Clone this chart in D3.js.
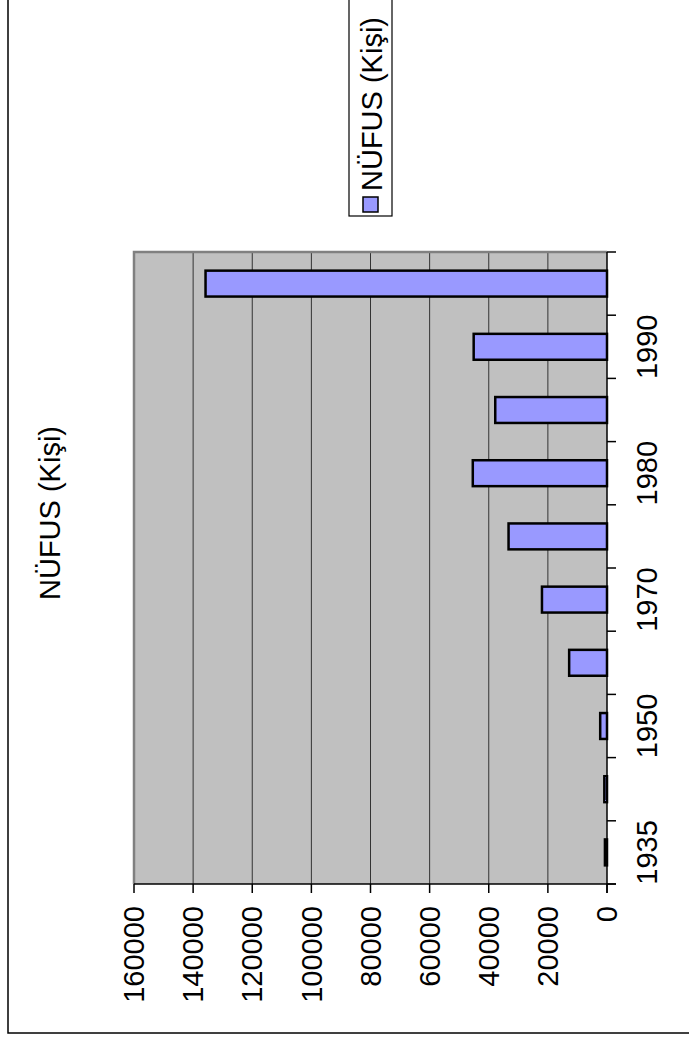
<!DOCTYPE html>
<html>
<head>
<meta charset="utf-8">
<script src="https://cdn.jsdelivr.net/npm/d3@7"></script>
<style>
  body { margin: 0; background: #fff; }
  text { font-family: "Liberation Sans", Arial, sans-serif; fill: #000; }
</style>
</head>
<body>
<script>
// years (only every other one gets a label, like the original)
const years = ["1935", "1945", "1950", "1960", "1970", "1975", "1980", "1985", "1990", "1997"];
const population = [700, 900, 2300, 12800, 22000, 33300, 45400, 37800, 45100, 135800];
const valueTicks = [0, 20000, 40000, 60000, 80000, 100000, 120000, 140000, 160000];
const seriesName = "NÜFUS (Kişi)";
const chartTitle = "NÜFUS (Kişi)";

const W = 689, H = 1040;
const fs = 29;

const svg = d3.select("body").append("svg")
    .attr("width", W)
    .attr("height", H);

// outer chart frame
svg.append("rect")
    .attr("x", 8).attr("y", -5)
    .attr("width", W + 5 - 8).attr("height", 1038)
    .attr("fill", "#fff").attr("stroke", "#000").attr("stroke-width", 1.5);

const plot = { left: 134, right: 607, top: 252, bottom: 884 };

const x = d3.scaleLinear()
    .domain([0, 160000])
    .range([plot.right, plot.left]);

const y = d3.scaleBand()
    .domain(years)
    .range([plot.bottom, plot.top])
    .paddingInner(0.59)
    .paddingOuter(0.295);

// plot background
svg.append("rect")
    .attr("x", plot.left).attr("y", plot.top)
    .attr("width", plot.right - plot.left).attr("height", plot.bottom - plot.top)
    .attr("fill", "#c0c0c0");

// gridlines
svg.selectAll("line.grid")
    .data(valueTicks.filter(d => d > 0 && d < 160000))
    .enter().append("line")
    .attr("class", "grid")
    .attr("x1", d => x(d)).attr("x2", d => x(d))
    .attr("y1", plot.top).attr("y2", plot.bottom)
    .attr("stroke", "#333").attr("stroke-width", 1);

// plot border (gray, left & top)
svg.append("path")
    .attr("d", `M${plot.left},${plot.bottom}V${plot.top}H${plot.right}`)
    .attr("fill", "none").attr("stroke", "#808080").attr("stroke-width", 2.5);

// bars
svg.selectAll("rect.bar")
    .data(years)
    .enter().append("rect")
    .attr("class", "bar")
    .attr("x", (d, i) => x(population[i]))
    .attr("y", d => y(d))
    .attr("width", (d, i) => x(0) - x(population[i]))
    .attr("height", y.bandwidth())
    .attr("fill", "#9999ff")
    .attr("stroke", "#000")
    .attr("stroke-width", 2.5);

// category axis (right side)
const step = y.step();
const bounds = d3.range(years.length + 1).map(i => plot.bottom - i * step);
svg.append("line")
    .attr("x1", plot.right).attr("x2", plot.right)
    .attr("y1", plot.top).attr("y2", plot.bottom + 9)
    .attr("stroke", "#000").attr("stroke-width", 1.5);
svg.selectAll("line.ctick")
    .data(bounds)
    .enter().append("line")
    .attr("class", "ctick")
    .attr("x1", plot.right).attr("x2", plot.right + 9)
    .attr("y1", d => d).attr("y2", d => d)
    .attr("stroke", "#000").attr("stroke-width", 1.5);
svg.selectAll("text.clabel")
    .data(years.filter((d, i) => i % 2 === 0))
    .enter().append("text")
    .attr("class", "clabel")
    .attr("transform", d => `translate(${647},${y(d) + y.bandwidth() / 2}) rotate(-90)`)
    .attr("text-anchor", "middle")
    .attr("dy", "0.35em")
    .style("font-size", fs + "px")
    .text(d => d);

// value axis (bottom)
svg.append("line")
    .attr("x1", plot.left).attr("x2", plot.right + 9)
    .attr("y1", plot.bottom).attr("y2", plot.bottom)
    .attr("stroke", "#000").attr("stroke-width", 1.5);
svg.selectAll("line.vtick")
    .data(valueTicks)
    .enter().append("line")
    .attr("class", "vtick")
    .attr("x1", d => x(d)).attr("x2", d => x(d))
    .attr("y1", plot.bottom).attr("y2", plot.bottom + 9)
    .attr("stroke", "#000").attr("stroke-width", 1.5);
svg.selectAll("text.vlabel")
    .data(valueTicks)
    .enter().append("text")
    .attr("class", "vlabel")
    .attr("transform", d => `translate(${x(d)},${906}) rotate(-90)`)
    .attr("text-anchor", "end")
    .attr("dy", "0.35em")
    .style("font-size", fs + "px")
    .text(d => d);

// title
svg.append("text")
    .attr("transform", `translate(50,${513}) rotate(-90)`)
    .attr("text-anchor", "middle")
    .attr("dy", "0.35em")
    .style("font-size", fs + "px")
    .text(chartTitle);

// legend
const lg = svg.append("g");
lg.append("rect")
    .attr("x", 349).attr("y", -5)
    .attr("width", 43).attr("height", 221)
    .attr("fill", "#fff").attr("stroke", "#000").attr("stroke-width", 1.2);
lg.append("rect")
    .attr("x", 363).attr("y", 197)
    .attr("width", 15).attr("height", 15)
    .attr("fill", "#9999ff").attr("stroke", "#000").attr("stroke-width", 1.5);
lg.append("text")
    .attr("transform", `translate(372,${191}) rotate(-90)`)
    .attr("text-anchor", "start")
    .attr("dy", "0.35em")
    .style("font-size", fs + "px")
    .text(seriesName);
</script>
</body>
</html>
